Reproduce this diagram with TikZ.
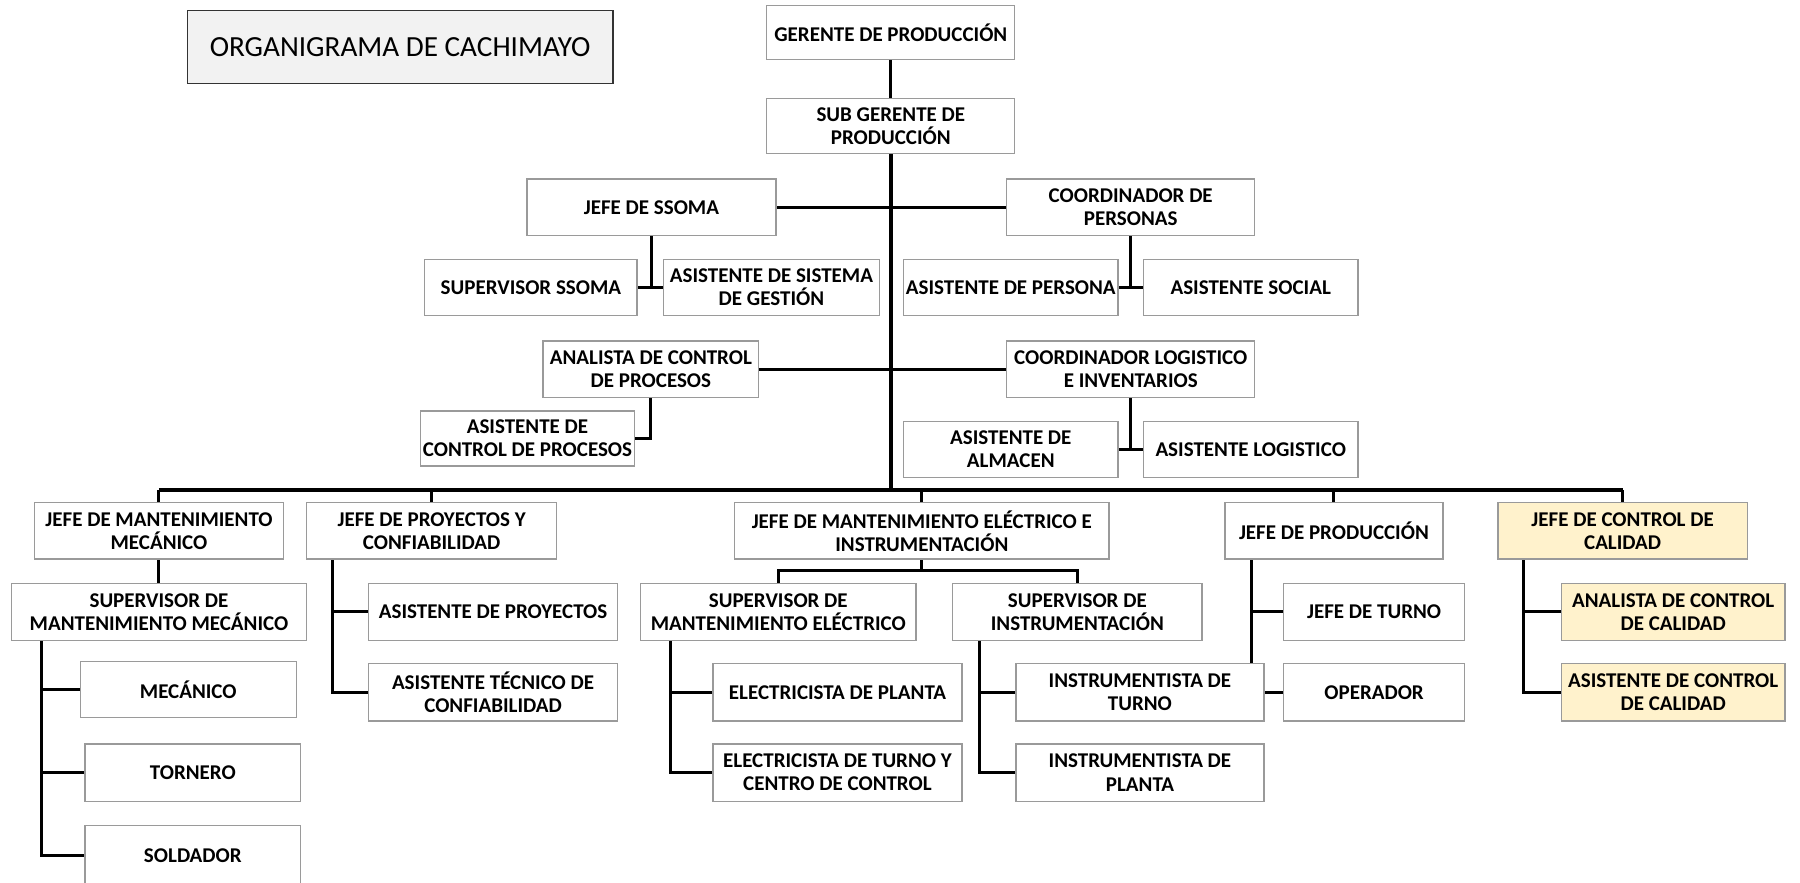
\documentclass[tikz,border=0pt]{standalone}
\usepackage{fontspec}
\setmainfont{Carlito}
\usetikzlibrary{backgrounds}
\pgfdeclarelayer{bottom}
\pgfsetlayers{bottom,background,main}
\definecolor{yelfill}{HTML}{FFF2CC}
\definecolor{titfill}{HTML}{F2F2F2}
\definecolor{boxline}{HTML}{9A9A9A}
\tikzset{
  box/.style={draw=boxline, line width=0.65pt, fill=white, inner sep=0pt, align=center,
    font=\bfseries\fontsize{10.5}{11.6}\selectfont},
  yel/.style={fill=yelfill},
  conn/.style={line width=1.5pt, draw=black},
  trunk/.style={line width=2pt, draw=black},
}
\newcommand\obox[7][]{%
  \pgfmathsetmacro\obw{(#5-#3)*0.574}%
  \pgfmathsetmacro\obh{(#6-#4)*0.574}%
  \node[box,#1,minimum width=\obw pt,minimum height=\obh pt] (#2) at ({(#3+#5)/2},{(#4+#6)/2}) {#7};}
\begin{document}
\begin{tikzpicture}[x=0.574pt,y=-0.574pt]
\begin{pgfonlayer}{bottom}
\fill[white] (0,0) rectangle (1568,769);
\end{pgfonlayer}
\useasboundingbox (0,0) rectangle (1568,769);
% title
\node[draw=black!80, line width=0.6pt, fill=titfill, inner sep=0pt,
  font=\fontsize{14.6}{16}\selectfont, minimum width={371*0.574pt}, minimum height={64*0.574pt}]
  (title) at (348.5,41) {ORGANIGRAMA DE CACHIMAYO};
% top
\obox{gp}{668}{5}{884}{52}{GERENTE DE PRODUCCIÓN}
\obox{sgp}{668}{86}{884}{134}{SUB GERENTE DE\\PRODUCCIÓN}
\obox{ssoma}{459}{156}{676}{205}{JEFE DE SSOMA}
\obox{cper}{877}{156}{1093}{205}{COORDINADOR DE\\PERSONAS}
\obox{supss}{370}{226}{555}{275}{SUPERVISOR SSOMA}
\obox{asg}{578}{226}{766}{275}{ASISTENTE DE SISTEMA\\DE GESTIÓN}
\obox{aper}{787}{226}{974}{275}{ASISTENTE DE PERSONA}
\obox{asoc}{996}{226}{1183}{275}{ASISTENTE SOCIAL}
\obox{acp}{473}{297}{661}{346}{ANALISTA DE CONTROL\\DE PROCESOS}
\obox{clog}{877}{297}{1093}{346}{COORDINADOR LOGISTICO\\E INVENTARIOS}
\obox{ascp}{366}{358}{553}{406}{ASISTENTE DE\\CONTROL DE PROCESOS}
\obox{aalm}{787}{367}{974}{416}{ASISTENTE DE\\ALMACEN}
\obox{alog}{996}{367}{1183}{416}{ASISTENTE LOGISTICO}
% second level
\obox{jmm}{30}{438}{247}{487}{JEFE DE MANTENIMIENTO\\MECÁNICO}
\obox{jpc}{267}{438}{485}{487}{JEFE DE PROYECTOS Y\\CONFIABILIDAD}
\obox{jme}{640}{438}{966}{487}{JEFE DE MANTENIMIENTO ELÉCTRICO E\\INSTRUMENTACIÓN}
\obox{jp}{1067}{438}{1257}{487}{JEFE DE PRODUCCIÓN}
\obox[yel]{jcc}{1305}{438}{1522}{487}{JEFE DE CONTROL DE\\CALIDAD}
% third level
\obox{smm}{10}{508}{267}{558}{SUPERVISOR DE\\MANTENIMIENTO MECÁNICO}
\obox{mec}{70}{576}{258}{625}{MECÁNICO}
\obox{tor}{74}{648}{262}{698}{TORNERO}
\obox{sol}{74}{719}{262}{771}{SOLDADOR}
\obox{apy}{321}{508}{538}{558}{ASISTENTE DE PROYECTOS}
\obox{atc}{321}{578}{538}{628}{ASISTENTE TÉCNICO DE\\CONFIABILIDAD}
\obox{sme}{558}{508}{798}{558}{SUPERVISOR DE\\MANTENIMIENTO ELÉCTRICO}
\obox{sin}{830}{508}{1047}{558}{SUPERVISOR DE\\INSTRUMENTACIÓN}
\obox{ep}{621}{578}{838}{628}{ELECTRICISTA DE PLANTA}
\obox{etc}{621}{648}{838}{698}{ELECTRICISTA DE TURNO Y\\CENTRO DE CONTROL}
\obox{it}{885}{578}{1101}{628}{INSTRUMENTISTA DE\\TURNO}
\obox{ipl}{885}{648}{1101}{698}{INSTRUMENTISTA DE\\PLANTA}
\obox{jt}{1118}{508}{1276}{558}{JEFE DE TURNO}
\obox{op}{1118}{578}{1276}{628}{OPERADOR}
\obox[yel]{acc}{1360}{508}{1555}{558}{ANALISTA DE CONTROL\\DE CALIDAD}
\obox[yel]{asc}{1360}{578}{1555}{628}{ASISTENTE DE CONTROL\\DE CALIDAD}
% connectors
\begin{scope}[on background layer]
\coordinate (bus) at (776,427);
\draw[conn] (gp.south) -- (sgp.north);
\draw[trunk] (sgp.south) -- (sgp.south |- bus);
\draw[conn] (ssoma.east) -- (ssoma.east -| sgp.south);
\draw[conn] (cper.west) -- (cper.west -| sgp.south);
\draw[conn] (acp.east) -- (acp.east -| sgp.south);
\draw[conn] (clog.west) -- (clog.west -| sgp.south);
\draw[conn] (ssoma.south) -- (ssoma.south |- supss.east);
\draw[conn] (supss.east) -- (asg.west);
\draw[conn] (cper.south) -- (cper.south |- aper.east);
\draw[conn] (aper.east) -- (asoc.west);
\draw[conn] (acp.south) |- (ascp.east);
\draw[conn] (clog.south) -- (clog.south |- aalm.east);
\draw[conn] (aalm.east) -- (alog.west);
% bus
\draw[trunk] (jmm.north |- bus) -- (jcc.north |- bus);
\foreach \n in {jmm,jpc,jme,jp,jcc} \draw[conn] (\n.north |- bus) -- (\n.north);
% mecanico
\draw[conn] (jmm.south) -- (smm.north);
\coordinate (smmx) at (36,558);
\draw[conn] (smmx) |- (sol.west);
\draw[conn] (smmx |- mec.west) -- (mec.west);
\draw[conn] (smmx |- tor.west) -- (tor.west);
% proyectos
\coordinate (jpcx) at (290,487);
\draw[conn] (jpcx) |- (atc.west);
\draw[conn] (jpcx |- apy.west) -- (apy.west);
% electrico
\coordinate (jmeb) at (803,497);
\draw[conn] (jme.south) -- (jmeb);
\draw[conn] (sme.north) |- (jmeb) -| (sin.north);
\coordinate (smex) at (584,558);
\draw[conn] (smex) |- (etc.west);
\draw[conn] (smex |- ep.west) -- (ep.west);
\coordinate (sinx) at (853,558);
\draw[conn] (sinx) |- (ipl.west);
\draw[conn] (sinx |- it.west) -- (it.west);
% produccion
\coordinate (jpx) at (1090,487);
\draw[conn] (jpx) |- (op.west);
\draw[conn] (jpx |- jt.west) -- (jt.west);
% calidad
\coordinate (jccx) at (1327,487);
\draw[conn] (jccx) |- (asc.west);
\draw[conn] (jccx |- acc.west) -- (acc.west);
\end{scope}
\end{tikzpicture}
\end{document}
